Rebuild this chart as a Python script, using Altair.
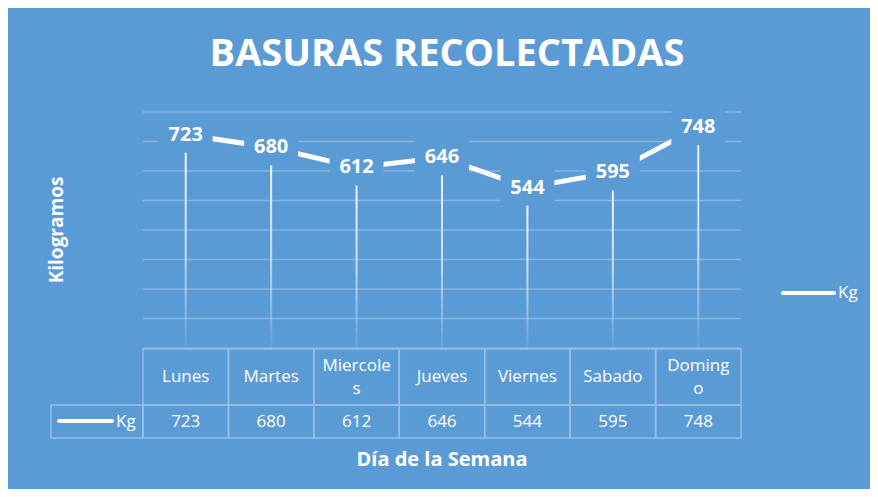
import altair as alt
import pandas as pd

days = ["Lunes", "Martes", "Miercoles", "Jueves", "Viernes", "Sabado", "Domingo"]
header_labels = ["Lunes", "Martes", "Miercole\ns", "Jueves", "Viernes", "Sabado", "Doming\no"]
kg = [723, 680, 612, 646, 544, 595, 748]
y_ticks = [0, 100, 200, 300, 400, 500, 600, 700, 800]

BG = "#5B9BD5"
BORDER = "#96bfe5"
FONT = "Open Sans"

df = pd.DataFrame({"day": days, "kg": kg, "header": header_labels})
grid_df = pd.DataFrame({"kg": y_ticks})
one = pd.DataFrame({"k": [0]})

y_scale = alt.Scale(domain=[0, 800], nice=False, zero=True)
x_enc = alt.X("day:N", sort=days, scale=alt.Scale(paddingInner=0, paddingOuter=0), axis=None)
y_enc = alt.Y("kg:Q", scale=y_scale, axis=None)

base = alt.Chart(df)

grid = alt.Chart(grid_df).mark_rule(color="white", opacity=0.25, strokeWidth=1.5).encode(y=y_enc)

drop_fill = {
    "gradient": "linear", "x1": 0, "y1": 0, "x2": 0, "y2": 1,
    "stops": [
        {"offset": 0, "color": "rgba(255,255,255,0.95)"},
        {"offset": 0.55, "color": "rgba(255,255,255,0.65)"},
        {"offset": 1, "color": "rgba(255,255,255,0.05)"},
    ],
}

drops = base.mark_bar(size=2, fill=drop_fill).encode(x=x_enc, y=y_enc, y2=alt.datum(0))
line = base.mark_line(color="white", strokeWidth=5, strokeCap="butt", strokeJoin="miter").encode(x=x_enc, y=y_enc)
boxes = base.mark_point(shape="M-1.5,-1L1.5,-1L1.5,1L-1.5,1Z", filled=True, fill=BG, opacity=1,
                        size=1296, strokeWidth=0).encode(x=x_enc, y=y_enc)
labels = base.mark_text(font=FONT, fontSize=20, fontWeight="bold", color="white",
                        baseline="middle", align="center").encode(x=x_enc, y=y_enc, text="kg:Q")

# data table
head_cells = base.mark_rect(fillOpacity=0, stroke=BORDER, strokeWidth=1.5).encode(
    x=x_enc, y=alt.value(237), y2=alt.value(293))
val_cells = base.mark_rect(fillOpacity=0, stroke=BORDER, strokeWidth=1.5).encode(
    x=x_enc, y=alt.value(293), y2=alt.value(326))
head_text1 = base.transform_filter("indexof(datum.header, '\\n') < 0").mark_text(
    font=FONT, fontSize=17, color="white", baseline="middle", align="center").encode(
    x=x_enc, y=alt.value(265), text="header:N")
head_text2 = base.transform_filter("indexof(datum.header, '\\n') >= 0").mark_text(
    font=FONT, fontSize=17, color="white", lineBreak="\n", lineHeight=23,
    baseline="middle", align="center", dy=-11.5).encode(
    x=x_enc, y=alt.value(265), text="header:N")
val_text = base.mark_text(font=FONT, fontSize=17, color="white", baseline="middle", align="center").encode(
    x=x_enc, y=alt.value(309.5), text="kg:Q")

c1 = alt.Chart(one)
key_cell = c1.mark_rect(fillOpacity=0, stroke=BORDER, strokeWidth=1.5).encode(
    x=alt.value(-92), x2=alt.value(0), y=alt.value(293), y2=alt.value(326))
key_line = c1.mark_rule(color="white", strokeWidth=4, strokeCap="round").encode(
    x=alt.value(-84), x2=alt.value(-31), y=alt.value(309))
key_text = c1.mark_text(font=FONT, fontSize=17, color="white", align="left", baseline="middle").encode(
    x=alt.value(-27), y=alt.value(309.5), text=alt.value("Kg"))

leg_line = c1.mark_rule(color="white", strokeWidth=4, strokeCap="round").encode(
    x=alt.value(640), x2=alt.value(691), y=alt.value(181))
leg_text = c1.mark_text(font=FONT, fontSize=17, color="white", align="left", baseline="middle").encode(
    x=alt.value(695), y=alt.value(181), text=alt.value("Kg"))

title = c1.mark_text(font=FONT, fontSize=38, fontWeight="bold", color="white", align="center",
                     baseline="middle").encode(x=alt.value(304), y=alt.value(-57),
                                               text=alt.value("BASURAS RECOLECTADAS"))
ytitle = c1.mark_text(font=FONT, fontSize=19, fontWeight="bold", color="white", align="center",
                      baseline="middle", angle=270).encode(x=alt.value(-86), y=alt.value(118),
                                                           text=alt.value("Kilogramos"))
xtitle = c1.mark_text(font=FONT, fontSize=20, fontWeight="bold", color="white", align="center",
                      baseline="middle").encode(x=alt.value(299), y=alt.value(348),
                                                text=alt.value("Día de la Semana"))

chart = alt.layer(
    grid, drops, line, boxes, labels,
    head_cells, val_cells, head_text1, head_text2, val_text,
    key_cell, key_line, key_text, leg_line, leg_text,
    title, ytitle, xtitle,
).properties(
    width=598, height=236,
    padding={"left": 135, "top": 104, "right": 129, "bottom": 141},
    autosize=alt.AutoSizeParams(type="none"),
    background=BG,
).configure_view(stroke=None)

chart.save("out.html", embed_options={"renderer": "svg", "actions": False})
